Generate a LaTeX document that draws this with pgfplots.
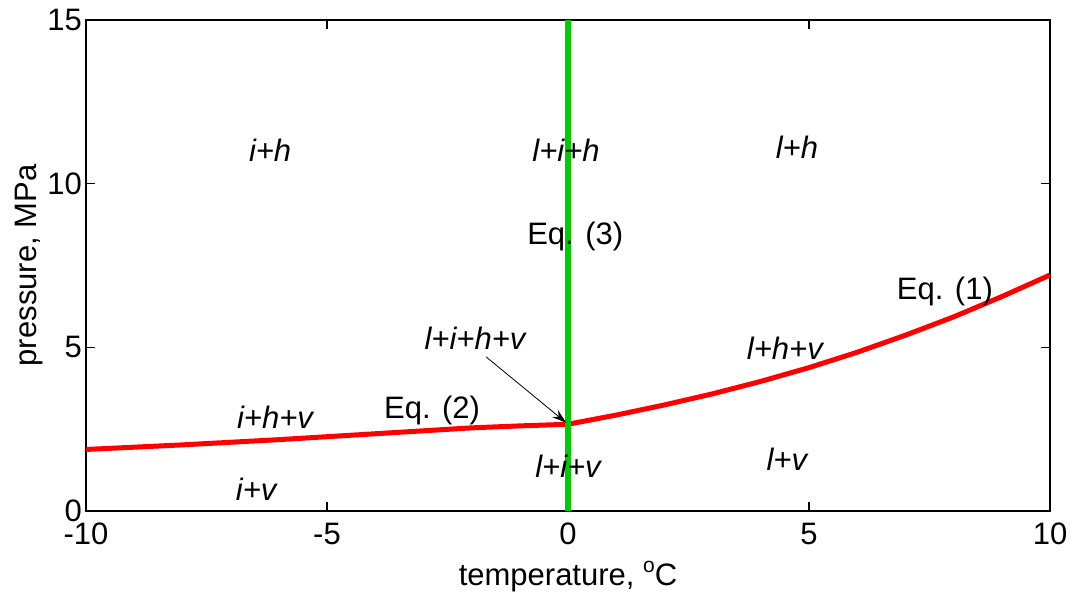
\documentclass[border=0pt]{standalone}
\usepackage{fontspec}
\setmainfont{Liberation Sans}
\usepackage{pgfplots}
\pgfplotsset{compat=1.18}
\usetikzlibrary{arrows.meta}
\definecolor{eqgreen}{RGB}{0,204,0}
\begin{document}
\fontsize{31}{37}\selectfont
\begin{tikzpicture}[font=\fontsize{31}{37}\selectfont]
\begin{axis}[name=ax, scale only axis, width=964pt, height=491pt,
  xmin=-10, xmax=10, ymin=0, ymax=15,
  xtick={-10,-5,0,5,10}, xticklabels={-10,-5,0,5,10},
  ytick={0,5,10,15}, yticklabels={0,5,10,15},
  tick align=inside, major tick length=9pt,
  axis line style={line width=1.5pt},
  every tick/.style={line width=1.5pt, black},
  tick label style={font=\fontsize{31}{37}\selectfont, inner sep=2pt},
  xticklabel style={yshift=-10pt},
  yticklabel style={xshift=-2pt},
  label style={font=\fontsize{31}{37}\selectfont},
  xlabel={temperature, \raisebox{13pt}{\fontsize{21}{21}\selectfont o}C},
  ylabel={pressure, MPa},
  xlabel style={inner sep=0pt, yshift=-14pt},
  ylabel style={inner sep=0pt, yshift=2pt},
  clip=false]
\addplot[red, line width=5pt] coordinates {
 (-10,1.88) (-9,1.95) (-8,2.02) (-7,2.10) (-6,2.18) (-5,2.27) (-4,2.36) (-3,2.45) (-2,2.54) (-1,2.60) (0,2.65)};
\addplot[red, line width=5pt] coordinates {
 (0,2.65) (1,2.93) (2,3.24) (3,3.58) (4,3.96) (5,4.38) (6,4.85) (7,5.37) (8,5.93) (9,6.55) (10,7.21)};
\addplot[eqgreen, line width=6pt] coordinates {(0,0) (0,15)};
\draw[-{Stealth[length=14pt,width=9pt]}, line width=0.8pt] (axis cs:-1.70,4.71) -- (axis cs:-0.04,2.70);
\node at (axis cs:-6.18,11.03) {\itshape i+h};
\node at (axis cs:-0.04,11.03) {\itshape l+i+h};
\node at (axis cs:4.75,11.1) {\itshape l+h};
\node at (axis cs:0.15,8.4) {Eq. (3)};
\node at (axis cs:7.82,6.72) {Eq. (1)};
\node at (axis cs:-1.93,5.29) {\itshape l+i+h+v};
\node at (axis cs:4.5,4.98) {\itshape l+h+v};
\node at (axis cs:-6.08,2.87) {\itshape i+h+v};
\node at (axis cs:-2.82,3.06) {Eq. (2)};
\node at (axis cs:0,1.37) {\itshape l+i+v};
\node at (axis cs:4.54,1.59) {\itshape l+v};
\node at (axis cs:-6.47,0.67) {\itshape i+v};
\end{axis}
\pgfresetboundingbox
\path[use as bounding box] ([shift={(-86pt,-81pt)}]ax.south west) rectangle ([shift={(22pt,20pt)}]ax.north east);
\end{tikzpicture}
\end{document}
